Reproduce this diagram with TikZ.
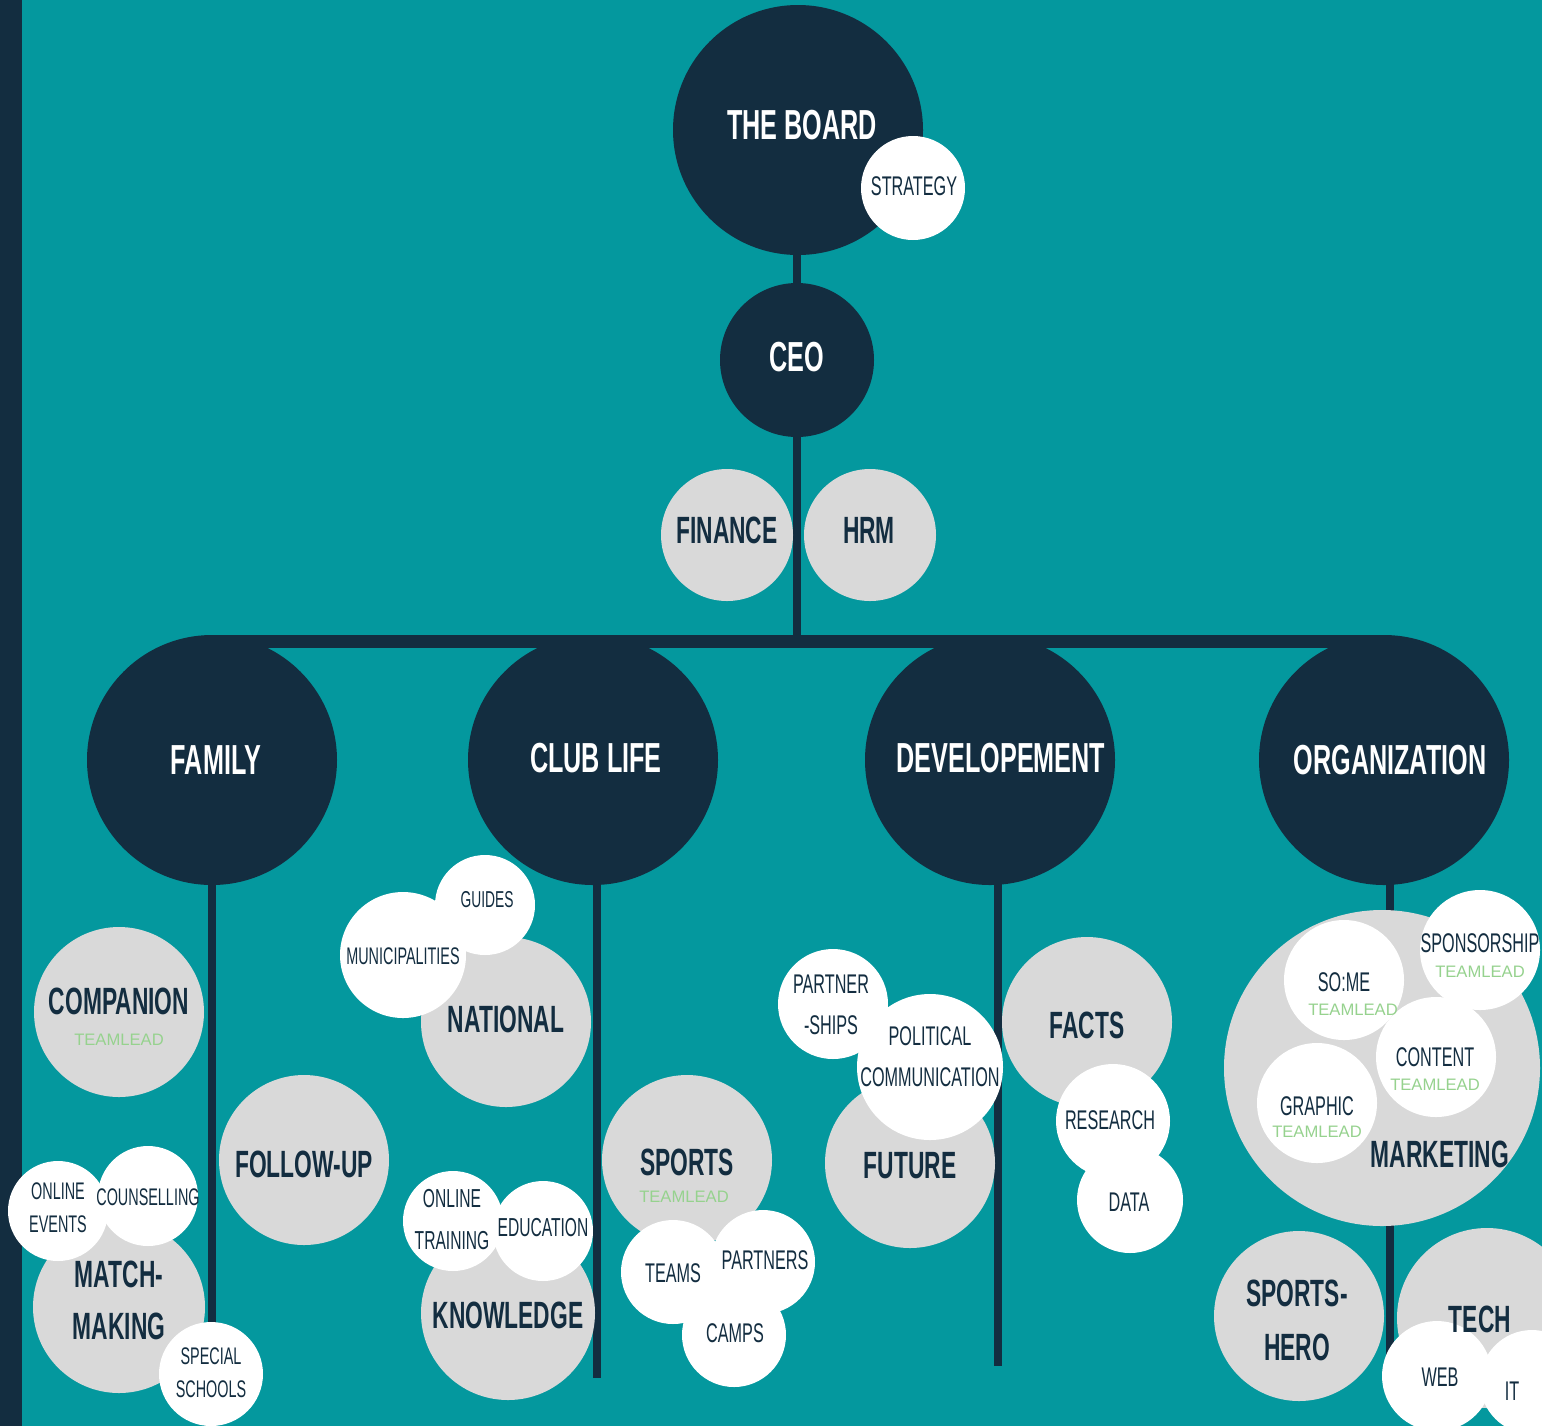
\documentclass[tikz,border=0pt]{standalone}
\usepackage{fontspec}
\newfontfamily\bebas{Liberation Sans}[FakeStretch=0.6]
\newfontfamily\mont{Liberation Sans}
\definecolor{teal0}{RGB}{4,152,158}
\definecolor{navy}{RGB}{19,45,64}
\definecolor{greyc}{RGB}{217,217,217}
\definecolor{tlgreen}{RGB}{150,210,142}
\pgfdeclarelayer{back}
\pgfdeclarelayer{lines}
\pgfsetlayers{back,lines,main}
\begin{document}
\begin{tikzpicture}[x=0.5pt,y=-0.5pt,
  bub/.style={circle,inner sep=0pt,minimum size=#1pt},
  darkb/.style={bub=#1,fill=navy},
  greyb/.style={bub=#1,fill=greyc},
  whiteb/.style={bub=#1,fill=white},
  txt/.style={inner sep=0pt,align=center},
  bigt/.style={txt,text=white,font=\bebas\bfseries\fontsize{21}{25}\selectfont},
  midt/.style={txt,text=navy,font=\bebas\bfseries\fontsize{19}{26}\selectfont},
  smallt/.style={txt,text=navy,font=\bebas\fontsize{13.5}{17}\selectfont},
  tinyt/.style={txt,text=navy,font=\bebas\fontsize{12}{16.5}\selectfont},
  leadt/.style={txt,text=tlgreen,font=\mont\fontsize{8.3}{9}\selectfont},
  link/.style={draw=navy,line width=4pt},
  barline/.style={draw=navy,line width=6.5pt},
]
\useasboundingbox (0,0) rectangle (1542,1426);
\begin{pgfonlayer}{back}
  \fill[teal0] (0,0) rectangle (1542,1426);
  \fill[navy] (0,0) rectangle (22,1426);
\end{pgfonlayer}

% top
\node[darkb=125] (board) at (798,130) {};
\node[whiteb=52] (strategy) at (913,188) {};
\node[darkb=77] (ceo) at (797,360) {};
\node[greyb=66] (finance) at (727,535) {};
\node[greyb=66] (hrm) at (870,535) {};

% departments
\node[darkb=125] (family) at (212,760) {};
\node[darkb=125] (club) at (593,760) {};
\node[darkb=125] (dev) at (990,760) {};
\node[darkb=125] (org) at (1384,760) {};

% family branch
\node[greyb=85] (companion) at (119,1012) {};
\node[greyb=85] (followup) at (304,1160) {};
\node[greyb=86] (match) at (119,1307) {};
\node[whiteb=50] (counsel) at (148,1196) {};
\node[whiteb=50] (onlineev) at (58,1211) {};
\node[whiteb=52] (special) at (211,1374) {};

% club life branch
\node[greyb=85] (national) at (506,1022) {};
\node[whiteb=50] (guides) at (485,905) {};
\node[whiteb=63] (munic) at (403,955) {};
\node[greyb=87] (knowledge) at (508,1313) {};
\node[whiteb=50] (education) at (543,1231) {};
\node[whiteb=50] (onlinetr) at (453,1221) {};
\node[greyb=85] (sports) at (687,1160) {};
\node[whiteb=52] (teams) at (673,1272) {};
\node[whiteb=52] (partners) at (763,1262) {};
\node[whiteb=52] (camps) at (734,1335) {};

% development branch
\node[greyb=85] (future) at (910,1163) {};
\node[whiteb=55] (partnerships) at (833,1004) {};
\node[whiteb=73] (political) at (930,1067) {};
\node[greyb=85] (facts) at (1087,1022) {};
\node[whiteb=57] (research) at (1113,1121) {};
\node[whiteb=53] (data) at (1130,1200) {};

% organization branch
\node[greyb=158] (marketing) at (1382,1068) {};
\node[whiteb=60] (some) at (1344,980) {};
\node[whiteb=60] (sponsor) at (1480,950) {};
\node[whiteb=60] (content) at (1436,1057) {};
\node[whiteb=60] (graphic) at (1317,1103) {};
\node[greyb=85] (sportshero) at (1299,1316) {};
\node[greyb=90] (tech) at (1487,1318) {};
\node[whiteb=55] (web) at (1437,1376) {};
\node[whiteb=52] (it) at (1532,1382) {};

% connectors
\coordinate (barl) at (212,641.5);
\coordinate (barr) at (1390,641.5);
\coordinate (famend) at (212,1325);
\coordinate (clubend) at (597,1378);
\coordinate (devend) at (998,1366);
\coordinate (orgend) at (1390,1385);
\begin{pgfonlayer}{lines}
  \draw[link] (ceo.center |- board.center) -- (ceo.center) -- (ceo.center |- barl);
  \draw[barline] (barl) -- (barr);
  \draw[link] (famend |- family.center) -- (famend);
  \draw[link] (clubend |- club.center) -- (clubend);
  \draw[link] (devend |- dev.center) -- (devend);
  \draw[link] (orgend |- org.center) -- (orgend);
\end{pgfonlayer}

% texts
\node[bigt] (board-t) at (802,125) {THE BOARD};
\node[smallt] (strategy-t) at (914,186) {STRATEGY};
\node[bigt] (ceo-t) at (797,357) {CEO};
\node[midt] (finance-t) at (727,530) {FINANCE};
\node[midt] (hrm-t) at (869,530) {HRM};
\node[bigt] (family-t) at (216,760) {FAMILY};
\node[bigt] (club-t) at (596,758) {CLUB LIFE};
\node[bigt] (dev-t) at (1001,758) {DEVELOPEMENT};
\node[bigt] (org-t) at (1390,760) {ORGANIZATION};

\node[midt] (companion-t) at (119,1001) {COMPANION};
\node[leadt] (companion-l) at (119,1040) {TEAMLEAD};
\node[midt] (followup-t) at (304,1164) {FOLLOW-UP};
\node[midt,font=\bebas\bfseries\fontsize{19}{26}\selectfont] (match-t) at (119,1300) {MATCH-\\MAKING};
\node[tinyt] (onlineev-t) at (58,1208) {ONLINE\\EVENTS};
\node[tinyt] (counsel-t) at (148,1197) {COUNSELLING};
\node[tinyt] (special-t) at (211,1373) {SPECIAL\\SCHOOLS};

\node[tinyt,font=\bebas\fontsize{11.5}{14}\selectfont] (guides-t) at (487,900) {GUIDES};
\node[tinyt,font=\bebas\fontsize{12}{14}\selectfont] (munic-t) at (403,956) {MUNICIPALITIES};
\node[midt] (national-t) at (506,1019) {NATIONAL};
\node[tinyt,font=\bebas\fontsize{13}{21}\selectfont] (onlinetr-t) at (452,1220) {ONLINE\\TRAINING};
\node[tinyt,font=\bebas\fontsize{13}{17}\selectfont] (education-t) at (543,1228) {EDUCATION};
\node[midt] (knowledge-t) at (508,1315) {KNOWLEDGE};
\node[midt] (sports-t) at (687,1162) {SPORTS};
\node[leadt] (sports-l) at (684,1197) {TEAMLEAD};
\node[smallt] (teams-t) at (673,1273) {TEAMS};
\node[smallt] (partners-t) at (765,1260) {PARTNERS};
\node[smallt] (camps-t) at (735,1333) {CAMPS};

\node[smallt,font=\bebas\fontsize{13.5}{20.5}\selectfont] (partnerships-t) at (831,1005) {PARTNER\\-SHIPS};
\node[smallt,font=\bebas\fontsize{13.5}{20.5}\selectfont] (political-t) at (930,1057) {POLITICAL\\COMMUNICATION};
\node[midt] (future-t) at (910,1166) {FUTURE};
\node[midt] (facts-t) at (1087,1025) {FACTS};
\node[smallt] (research-t) at (1110,1120) {RESEARCH};
\node[smallt] (data-t) at (1129,1202) {DATA};

\node[smallt] (some-t) at (1344,982) {SO:ME};
\node[leadt] (some-l) at (1353,1010) {TEAMLEAD};
\node[smallt] (sponsor-t) at (1480,943) {SPONSORSHIP};
\node[leadt] (sponsor-l) at (1480,972) {TEAMLEAD};
\node[smallt] (content-t) at (1435,1057) {CONTENT};
\node[leadt] (content-l) at (1435,1085) {TEAMLEAD};
\node[smallt] (graphic-t) at (1317,1106) {GRAPHIC};
\node[leadt] (graphic-l) at (1317,1132) {TEAMLEAD};
\node[midt] (marketing-t) at (1440,1154) {MARKETING};
\node[midt,font=\bebas\bfseries\fontsize{19}{27}\selectfont] (sportshero-t) at (1297,1320) {SPORTS-\\HERO};
\node[midt] (tech-t) at (1480,1319) {TECH};
\node[smallt] (web-t) at (1440,1377) {WEB};
\node[smallt] (it-t) at (1512,1391) {IT};
\end{tikzpicture}
\end{document}
